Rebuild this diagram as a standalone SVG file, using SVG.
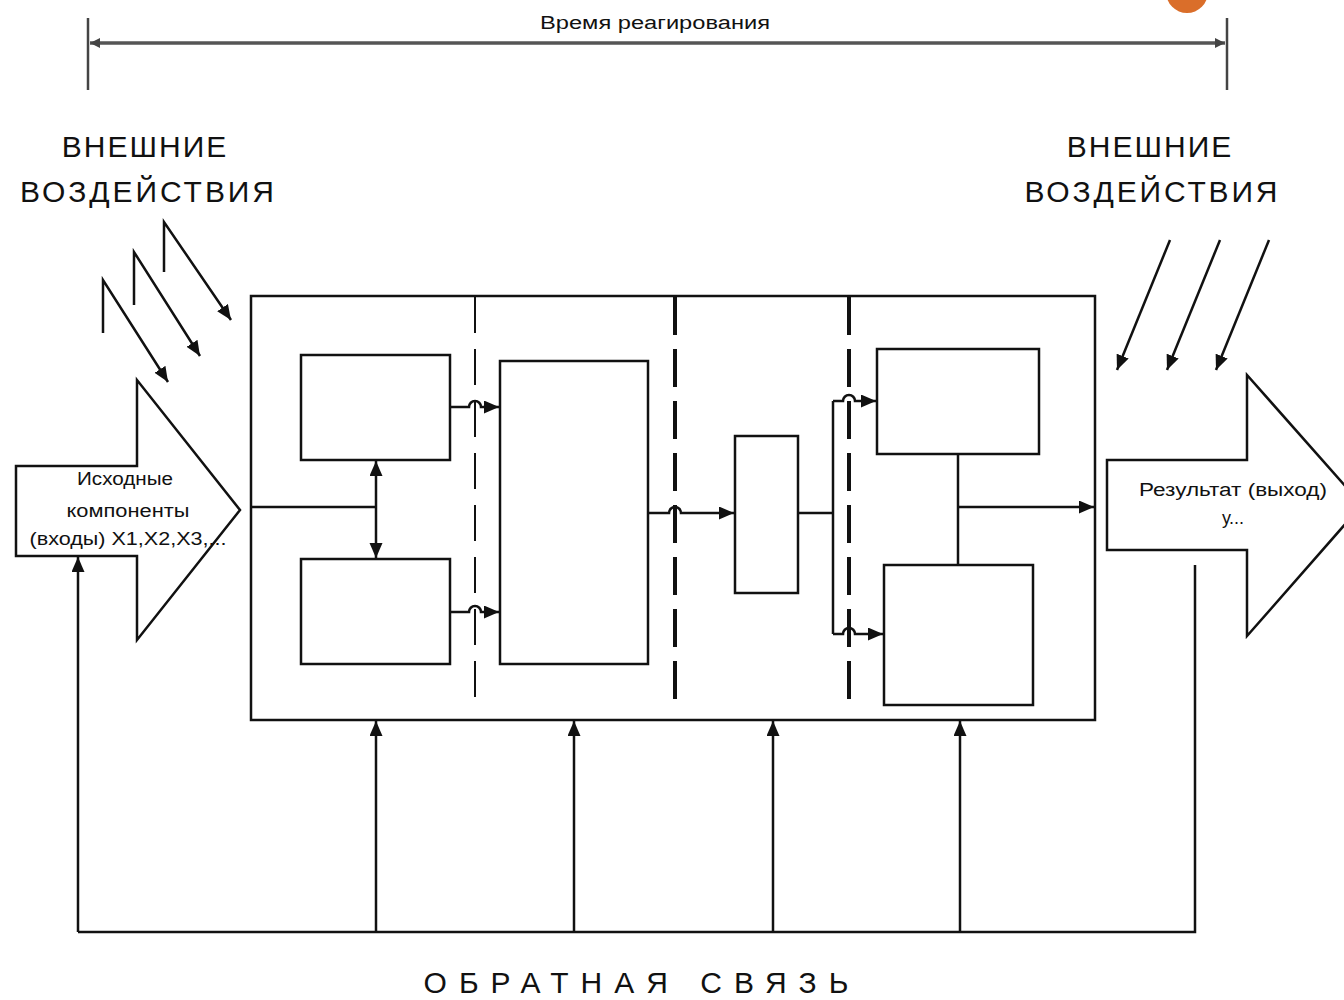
<svg xmlns="http://www.w3.org/2000/svg" width="1344" height="1000" viewBox="0 0 1344 1000">
<style>
  .ln{fill:none;stroke:#111;stroke-width:2.5}
  .box{fill:#fff;stroke:#111;stroke-width:2.5}
  .dash1{fill:none;stroke:#111;stroke-width:2;stroke-dasharray:36 16}
  .dash2{fill:none;stroke:#111;stroke-width:4;stroke-dasharray:38 14}
  .big{font-family:"Liberation Sans",Arial,sans-serif;font-size:30px;fill:#111;letter-spacing:2px}
  .sm{font-family:"Liberation Sans",Arial,sans-serif;font-size:18px;fill:#111}
  .fb{font-family:"Liberation Sans",Arial,sans-serif;font-size:30px;fill:#111;letter-spacing:12px}
</style>
<defs>
  <marker id="ah" markerUnits="userSpaceOnUse" markerWidth="16" markerHeight="14" refX="15" refY="6.5" orient="auto-start-reverse">
    <path d="M0,0 L15,6.5 L0,13 z" fill="#111"/>
  </marker>
  <marker id="ahg" markerUnits="userSpaceOnUse" markerWidth="12" markerHeight="12" refX="10" refY="5" orient="auto-start-reverse">
    <path d="M0,0 L10,5 L0,10 z" fill="#444"/>
  </marker>
</defs>
<rect width="1344" height="1000" fill="#fff"/>
<circle cx="1187" cy="-8" r="21" fill="#DA6E2A"/>

<g id="response-time">
  <line x1="88" y1="18" x2="88" y2="90" stroke="#444" stroke-width="2.5"/>
  <line x1="1227" y1="18" x2="1227" y2="90" stroke="#444" stroke-width="2.5"/>
  <line x1="90" y1="43" x2="1225" y2="43" stroke="#555" stroke-width="3.5" marker-start="url(#ahg)" marker-end="url(#ahg)"/>
  <text class="sm" x="655" y="29" text-anchor="middle" font-size="22" fill="#333" textLength="230" lengthAdjust="spacingAndGlyphs">Время реагирования</text>
</g>

<g id="ext-left">
  <text class="big" x="145" y="157" text-anchor="middle">ВНЕШНИЕ</text>
  <text class="big" x="148" y="202" text-anchor="middle" textLength="256">ВОЗДЕЙСТВИЯ</text>
</g>
<g id="ext-right">
  <text class="big" x="1150" y="157" text-anchor="middle">ВНЕШНИЕ</text>
  <text class="big" x="1152" y="202" text-anchor="middle" textLength="255">ВОЗДЕЙСТВИЯ</text>
</g>

<g id="input">
  <polygon class="box" points="16,466 137,466 137,380 240,510 137,640 137,556 16,556"/>
  <text class="sm" x="125" y="485" text-anchor="middle" textLength="96" lengthAdjust="spacingAndGlyphs">Исходные</text>
  <text class="sm" x="128" y="517" text-anchor="middle" textLength="123" lengthAdjust="spacingAndGlyphs">компоненты</text>
  <text class="sm" x="128" y="545" text-anchor="middle" textLength="197" lengthAdjust="spacingAndGlyphs">(входы) X1,X2,X3,...</text>
</g>

<g id="output">
  <polygon class="box" points="1107,460 1247,460 1247,375 1362,505 1247,636 1247,550 1107,550"/>
  <text class="sm" x="1233" y="496" text-anchor="middle" textLength="188" lengthAdjust="spacingAndGlyphs">Результат (выход)</text>
  <text class="sm" x="1233" y="524" text-anchor="middle">у...</text>
</g>

<g id="system">
  <rect class="box" x="251" y="296" width="844" height="424"/>
  <line class="dash1" x1="475" y1="297" x2="475" y2="700"/>
  <line class="dash2" x1="675" y1="297" x2="675" y2="700"/>
  <line class="dash2" x1="849" y1="297" x2="849" y2="700"/>
</g>
<g id="block1"><rect class="box" x="301" y="355" width="149" height="105"/></g>
<g id="block2"><rect class="box" x="301" y="559" width="149" height="105"/></g>
<g id="block3"><rect class="box" x="500" y="361" width="148" height="303"/></g>
<g id="block4"><rect class="box" x="735" y="436" width="63" height="157"/></g>
<g id="block5"><rect class="box" x="877" y="349" width="162" height="105"/></g>
<g id="block6"><rect class="box" x="884" y="565" width="149" height="140"/></g>

<g id="connectors">
  <path class="ln" d="M251,507 H376"/>
  <line class="ln" x1="376" y1="490" x2="376" y2="461" marker-end="url(#ah)"/>
  <line class="ln" x1="376" y1="520" x2="376" y2="558" marker-end="url(#ah)"/>
  <line class="ln" x1="376" y1="490" x2="376" y2="520"/>
  <path class="ln" d="M450,407 H469 a6,6 0 0 1 12,0 H499" marker-end="url(#ah)"/>
  <path class="ln" d="M450,612 H469 a6,6 0 0 1 12,0 H499" marker-end="url(#ah)"/>
  <path class="ln" d="M648,513 H669 a6,6 0 0 1 12,0 H734" marker-end="url(#ah)"/>
  <path class="ln" d="M798,513 H833"/>
  <path class="ln" d="M833,401 V634"/>
  <path class="ln" d="M833,401 H843 a6,6 0 0 1 12,0 H876" marker-end="url(#ah)"/>
  <path class="ln" d="M833,634 H843 a6,6 0 0 1 12,0 H883" marker-end="url(#ah)"/>
  <path class="ln" d="M958,454 V565"/>
  <path class="ln" d="M958,507 H1094" marker-end="url(#ah)"/>
  <path class="ln" d="M78,932 H1195 V565"/>
  <line class="ln" x1="78" y1="932" x2="78" y2="557" marker-end="url(#ah)"/>
  <line class="ln" x1="376" y1="932" x2="376" y2="721" marker-end="url(#ah)"/>
  <line class="ln" x1="574" y1="932" x2="574" y2="721" marker-end="url(#ah)"/>
  <line class="ln" x1="773" y1="932" x2="773" y2="721" marker-end="url(#ah)"/>
  <line class="ln" x1="960" y1="932" x2="960" y2="721" marker-end="url(#ah)"/>
  <path class="ln" d="M164,272 V222 L231,320" marker-end="url(#ah)"/>
  <path class="ln" d="M134,305 V252 L200,356" marker-end="url(#ah)"/>
  <path class="ln" d="M103,333 V280 L168,382" marker-end="url(#ah)"/>
  <line class="ln" x1="1170" y1="240" x2="1117" y2="370" marker-end="url(#ah)"/>
  <line class="ln" x1="1220" y1="240" x2="1167" y2="370" marker-end="url(#ah)"/>
  <line class="ln" x1="1269" y1="240" x2="1216" y2="370" marker-end="url(#ah)"/>
</g>

<g id="feedback-label">
  <text class="fb" x="642" y="993" text-anchor="middle">ОБРАТНАЯ СВЯЗЬ</text>
</g>
</svg>
